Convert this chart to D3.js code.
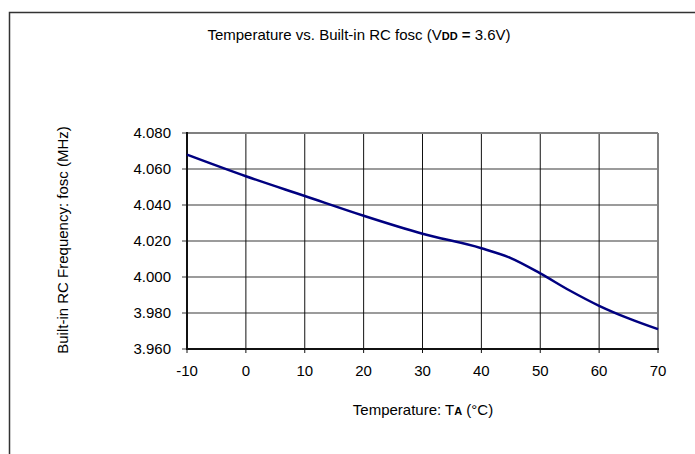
<!DOCTYPE html>
<html>
<head>
<meta charset="utf-8">
<script src="https://cdn.jsdelivr.net/npm/d3@7"></script>
<style>
  html, body { margin: 0; background: #fff; overflow: hidden; }
  svg { display: block; }
  text { font-family: "Liberation Sans", Arial, sans-serif; fill: #000; }
</style>
</head>
<body>
<div id="plot"></div>
<script>
// values
var temps = [-10, 0, 10, 20, 30, 40, 45, 50, 55, 60, 65, 70];
var freqs = [4.068, 4.056, 4.045, 4.034, 4.024, 4.016, 4.0105, 4.002, 3.9925, 3.984, 3.977, 3.971];
var xTicks = [-10, 0, 10, 20, 30, 40, 50, 60, 70];
var yTicks = [3.960, 3.980, 4.000, 4.020, 4.040, 4.060, 4.080];

var w = 695, h = 454;
var padL = 187, padR = 658, padT = 133, padB = 349;

var svg = d3.select("#plot")
    .append("svg")
    .attr("width", w)
    .attr("height", h);

// outer frame: only its left and top edges fall inside the picture
svg.append("path")
    .attr("d", "M9.5," + h + "V12.5H" + w)
    .attr("fill", "none")
    .attr("stroke", "#333")
    .attr("stroke-width", 1.5);

var xScale = d3.scaleLinear().domain([-10, 70]).range([padL, padR]);
var yScale = d3.scaleLinear().domain([3.960, 4.080]).range([padB, padT]);

// horizontal grid (grey), with a short outward tick on the left
svg.append("g")
    .selectAll("line")
    .data(yTicks)
    .enter()
    .append("line")
    .attr("x1", padL - 5)
    .attr("x2", padR)
    .attr("y1", function (d) { return yScale(d); })
    .attr("y2", function (d) { return yScale(d); })
    .attr("stroke", "#7a7a7a")
    .attr("stroke-width", 1.5);

// vertical grid (black), with a short tick below the axis
svg.append("g")
    .selectAll("line")
    .data(xTicks)
    .enter()
    .append("line")
    .attr("x1", function (d) { return xScale(d); })
    .attr("x2", function (d) { return xScale(d); })
    .attr("y1", padT)
    .attr("y2", padB + 4)
    .attr("stroke", "#111")
    .attr("stroke-width", 1);

// plot border: grey on top/right, black axes on left/bottom
svg.append("line")
    .attr("x1", padR).attr("x2", padR)
    .attr("y1", padT).attr("y2", padB)
    .attr("stroke", "#808080").attr("stroke-width", 2);
svg.append("line")
    .attr("x1", padL).attr("x2", padR)
    .attr("y1", padT).attr("y2", padT)
    .attr("stroke", "#808080").attr("stroke-width", 2);
svg.append("line")
    .attr("x1", padL).attr("x2", padL)
    .attr("y1", padT - 1).attr("y2", padB + 1)
    .attr("stroke", "#111").attr("stroke-width", 2);
svg.append("line")
    .attr("x1", padL - 1).attr("x2", padR + 1)
    .attr("y1", padB).attr("y2", padB)
    .attr("stroke", "#111").attr("stroke-width", 2);

// tick labels
svg.append("g")
    .selectAll("text")
    .data(yTicks)
    .enter()
    .append("text")
    .attr("x", padL - 16)
    .attr("y", function (d) { return yScale(d) + 5; })
    .attr("text-anchor", "end")
    .attr("font-size", 15)
    .text(function (d) { return d3.format(".3f")(d); });

svg.append("g")
    .selectAll("text")
    .data(xTicks)
    .enter()
    .append("text")
    .attr("x", function (d) { return xScale(d); })
    .attr("y", padB + 27)
    .attr("text-anchor", "middle")
    .attr("font-size", 15)
    .text(function (d) { return d; });

// the curve
var line = d3.line()
    .x(function (d) { return xScale(d[0]); })
    .y(function (d) { return yScale(d[1]); })
    .curve(d3.curveMonotoneX);

svg.append("path")
    .datum(d3.zip(temps, freqs))
    .attr("d", line)
    .attr("fill", "none")
    .attr("stroke", "#000080")
    .attr("stroke-width", 2.5);

// title
var title = svg.append("text")
    .attr("x", 359)
    .attr("y", 40)
    .attr("text-anchor", "middle")
    .attr("font-size", 15);
title.append("tspan").text("Temperature vs. Built-in RC fosc (V");
title.append("tspan").attr("font-weight", "bold").attr("font-size", 11).text("DD");
title.append("tspan").attr("font-weight", "bold").text(" =");
title.append("tspan").text(" 3.6V)");

// x axis label
var xl = svg.append("text")
    .attr("x", 423)
    .attr("y", 415)
    .attr("text-anchor", "middle")
    .attr("font-size", 15);
xl.append("tspan").text("Temperature: T");
xl.append("tspan").attr("font-weight", "bold").attr("font-size", 11).text("A");
xl.append("tspan").text(" (°C)");

// y axis label
svg.append("text")
    .attr("transform", "translate(68,240) rotate(-90)")
    .attr("text-anchor", "middle")
    .attr("font-size", 15)
    .text("Built-in RC Frequency: fosc (MHz)");
</script>
</body>
</html>
